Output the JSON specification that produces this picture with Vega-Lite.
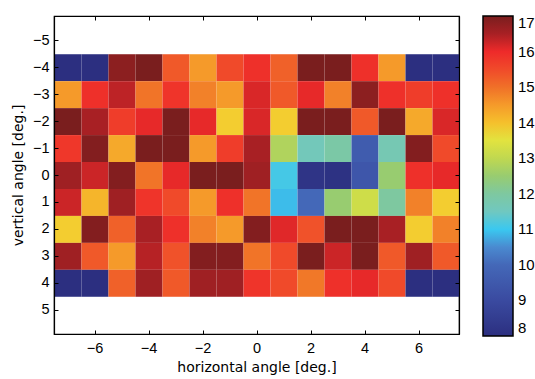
{
  "$schema": "https://vega.github.io/schema/vega-lite/v6.json",
  "autosize": "none",
  "width": 405,
  "height": 318,
  "padding": {"left": 54, "top": 16, "right": 76, "bottom": 45},
  "background": "white",
  "config": {
    "view": {"stroke": "black", "strokeWidth": 1.2},
    "font": "Liberation Sans",
    "axis": {
      "labelFont": "Liberation Sans",
      "titleFont": "DejaVu Sans",
      "labelFontSize": 14.5,
      "titleFontSize": 14,
      "titleFontWeight": "normal",
      "labelColor": "black",
      "titleColor": "black",
      "domainColor": "black",
      "domainWidth": 1.2,
      "tickColor": "black",
      "tickSize": -4,
      "grid": false
    }
  },
  "data": {
    "values": [
      {"h": -7, "v": -4, "val": 8}, {"h": -6, "v": -4, "val": 8}, {"h": -5, "v": -4, "val": 16.8}, {"h": -4, "v": -4, "val": 17}, {"h": -3, "v": -4, "val": 15.3}, {"h": -2, "v": -4, "val": 14.5}, {"h": -1, "v": -4, "val": 15.5}, {"h": 0, "v": -4, "val": 15.9}, {"h": 1, "v": -4, "val": 15.2}, {"h": 2, "v": -4, "val": 17}, {"h": 3, "v": -4, "val": 17}, {"h": 4, "v": -4, "val": 15.9}, {"h": 5, "v": -4, "val": 14.5}, {"h": 6, "v": -4, "val": 8}, {"h": 7, "v": -4, "val": 8},
      {"h": -7, "v": -3, "val": 14.5}, {"h": -6, "v": -3, "val": 15.9}, {"h": -5, "v": -3, "val": 16.35}, {"h": -4, "v": -3, "val": 14.95}, {"h": -3, "v": -3, "val": 15.85}, {"h": -2, "v": -3, "val": 14.8}, {"h": -1, "v": -3, "val": 14.5}, {"h": 0, "v": -3, "val": 16.15}, {"h": 1, "v": -3, "val": 15.3}, {"h": 2, "v": -3, "val": 16.05}, {"h": 3, "v": -3, "val": 14.8}, {"h": 4, "v": -3, "val": 16.8}, {"h": 5, "v": -3, "val": 15.9}, {"h": 6, "v": -3, "val": 15.7}, {"h": 7, "v": -3, "val": 15.9},
      {"h": -7, "v": -2, "val": 17}, {"h": -6, "v": -2, "val": 16.5}, {"h": -5, "v": -2, "val": 15.7}, {"h": -4, "v": -2, "val": 16.05}, {"h": -3, "v": -2, "val": 17}, {"h": -2, "v": -2, "val": 16.05}, {"h": -1, "v": -2, "val": 13.9}, {"h": 0, "v": -2, "val": 16.15}, {"h": 1, "v": -2, "val": 13.9}, {"h": 2, "v": -2, "val": 17}, {"h": 3, "v": -2, "val": 17}, {"h": 4, "v": -2, "val": 15.3}, {"h": 5, "v": -2, "val": 17}, {"h": 6, "v": -2, "val": 14.3}, {"h": 7, "v": -2, "val": 16.15},
      {"h": -7, "v": -1, "val": 15.8}, {"h": -6, "v": -1, "val": 16.9}, {"h": -5, "v": -1, "val": 14.3}, {"h": -4, "v": -1, "val": 17}, {"h": -3, "v": -1, "val": 17}, {"h": -2, "v": -1, "val": 14.5}, {"h": -1, "v": -1, "val": 15.7}, {"h": 0, "v": -1, "val": 16.5}, {"h": 1, "v": -1, "val": 12.8}, {"h": 2, "v": -1, "val": 11.6}, {"h": 3, "v": -1, "val": 11.9}, {"h": 4, "v": -1, "val": 9.6}, {"h": 5, "v": -1, "val": 11.7}, {"h": 6, "v": -1, "val": 16.9}, {"h": 7, "v": -1, "val": 15.5},
      {"h": -7, "v": 0, "val": 16.6}, {"h": -6, "v": 0, "val": 16.25}, {"h": -5, "v": 0, "val": 16.9}, {"h": -4, "v": 0, "val": 14.95}, {"h": -3, "v": 0, "val": 16.05}, {"h": -2, "v": 0, "val": 17}, {"h": -1, "v": 0, "val": 17}, {"h": 0, "v": 0, "val": 16.6}, {"h": 1, "v": 0, "val": 11.1}, {"h": 2, "v": 0, "val": 8.2}, {"h": 3, "v": 0, "val": 8.1}, {"h": 4, "v": 0, "val": 9.4}, {"h": 5, "v": 0, "val": 12.5}, {"h": 6, "v": 0, "val": 15.9}, {"h": 7, "v": 0, "val": 16.05},
      {"h": -7, "v": 1, "val": 16.25}, {"h": -6, "v": 1, "val": 14.15}, {"h": -5, "v": 1, "val": 16.6}, {"h": -4, "v": 1, "val": 15.85}, {"h": -3, "v": 1, "val": 15.5}, {"h": -2, "v": 1, "val": 14.5}, {"h": -1, "v": 1, "val": 15.9}, {"h": 0, "v": 1, "val": 14.95}, {"h": 1, "v": 1, "val": 10.9}, {"h": 2, "v": 1, "val": 10.0}, {"h": 3, "v": 1, "val": 12.5}, {"h": 4, "v": 1, "val": 13.2}, {"h": 5, "v": 1, "val": 12.0}, {"h": 6, "v": 1, "val": 14.8}, {"h": 7, "v": 1, "val": 13.9},
      {"h": -7, "v": 2, "val": 13.9}, {"h": -6, "v": 2, "val": 16.9}, {"h": -5, "v": 2, "val": 15.2}, {"h": -4, "v": 2, "val": 16.5}, {"h": -3, "v": 2, "val": 15.9}, {"h": -2, "v": 2, "val": 14.8}, {"h": -1, "v": 2, "val": 14.5}, {"h": 0, "v": 2, "val": 16.9}, {"h": 1, "v": 2, "val": 16.1}, {"h": 2, "v": 2, "val": 15.4}, {"h": 3, "v": 2, "val": 17}, {"h": 4, "v": 2, "val": 17}, {"h": 5, "v": 2, "val": 16.5}, {"h": 6, "v": 2, "val": 13.9}, {"h": 7, "v": 2, "val": 14.8},
      {"h": -7, "v": 3, "val": 16.6}, {"h": -6, "v": 3, "val": 15.3}, {"h": -5, "v": 3, "val": 14.5}, {"h": -4, "v": 3, "val": 16.4}, {"h": -3, "v": 3, "val": 15.4}, {"h": -2, "v": 3, "val": 16.9}, {"h": -1, "v": 3, "val": 16.9}, {"h": 0, "v": 3, "val": 14.95}, {"h": 1, "v": 3, "val": 15.5}, {"h": 2, "v": 3, "val": 17}, {"h": 3, "v": 3, "val": 16.25}, {"h": 4, "v": 3, "val": 17}, {"h": 5, "v": 3, "val": 15.3}, {"h": 6, "v": 3, "val": 16.6}, {"h": 7, "v": 3, "val": 15.3},
      {"h": -7, "v": 4, "val": 8}, {"h": -6, "v": 4, "val": 8}, {"h": -5, "v": 4, "val": 15.2}, {"h": -4, "v": 4, "val": 16.6}, {"h": -3, "v": 4, "val": 15.3}, {"h": -2, "v": 4, "val": 16.6}, {"h": -1, "v": 4, "val": 16.6}, {"h": 0, "v": 4, "val": 15.85}, {"h": 1, "v": 4, "val": 15.5}, {"h": 2, "v": 4, "val": 14.9}, {"h": 3, "v": 4, "val": 15.9}, {"h": 4, "v": 4, "val": 16.05}, {"h": 5, "v": 4, "val": 15.5}, {"h": 6, "v": 4, "val": 8}, {"h": 7, "v": 4, "val": 8}
    ]
  },
  "layer": [
    {
      "mark": {"type": "rect"},
      "encoding": {
        "x": {
          "field": "h", "type": "quantitative",
          "bin": {"step": 1, "extent": [-7.5, 7.5], "nice": false},
          "scale": {"domain": [-7.5, 7.5], "nice": false, "zero": false},
          "axis": {"values": [-6, -4, -2, 0, 2, 4, 6], "title": "horizontal angle [deg.]", "labelPadding": 11, "titlePadding": 6}
        },
        "y": {
          "field": "v", "type": "quantitative",
          "bin": {"step": 1, "extent": [-4.5, 4.5], "nice": false},
          "scale": {"domain": [-5.9, 5.9], "nice": false, "zero": false, "reverse": true},
          "axis": {"values": [-5, -4, -3, -2, -1, 0, 1, 2, 3, 4, 5], "title": "vertical angle [deg.]", "labelPadding": 9, "titlePadding": 7}
        },
        "color": {
          "field": "val", "type": "quantitative",
          "scale": {
            "domain": [8, 9, 10, 10.5, 11, 11.5, 12, 12.5, 13, 13.7, 14, 14.5, 15, 15.5, 16, 16.5, 17],
            "range": ["#2c2f80", "#3a4aa0", "#4468b8", "#4a8ad0", "#3ac8f0", "#70c8c0", "#7ec8a0", "#98cc70", "#c0d850", "#f0e838", "#f5c02c", "#f59a2a", "#f07028", "#f04a2a", "#ee2a2a", "#a82024", "#7a1e1e"],
            "interpolate": "rgb"
          },
          "legend": {
            "title": null,
            "orient": "right",
            "offset": 23,
            "padding": 0,
            "gradientLength": 320,
            "gradientThickness": 30,
            "gradientStrokeColor": "black",
            "gradientStrokeWidth": 1.5,
            "values": [8, 9, 10, 11, 12, 13, 14, 15, 16, 17],
            "labelFont": "Liberation Sans",
            "labelFontSize": 15,
            "labelColor": "black",
            "labelOffset": 5,
            "labelBaseline": "middle",
            "labelOverlap": false
          }
        }
      }
    },
    {
      "mark": {"type": "rect", "opacity": 0},
      "encoding": {
        "x": {
          "field": "h", "type": "quantitative",
          "bin": {"step": 1, "extent": [-7.5, 7.5], "nice": false},
          "scale": {"domain": [-7.5, 7.5], "nice": false, "zero": false},
          "axis": {"orient": "top", "values": [-6, -4, -2, 0, 2, 4, 6], "labels": false, "title": null}
        },
        "y": {
          "field": "v", "type": "quantitative",
          "bin": {"step": 1, "extent": [-4.5, 4.5], "nice": false},
          "scale": {"domain": [-5.9, 5.9], "nice": false, "zero": false, "reverse": true},
          "axis": {"orient": "right", "values": [-5, -4, -3, -2, -1, 0, 1, 2, 3, 4, 5], "labels": false, "title": null}
        }
      }
    }
  ],
  "resolve": {"axis": {"x": "independent", "y": "independent"}}
}
